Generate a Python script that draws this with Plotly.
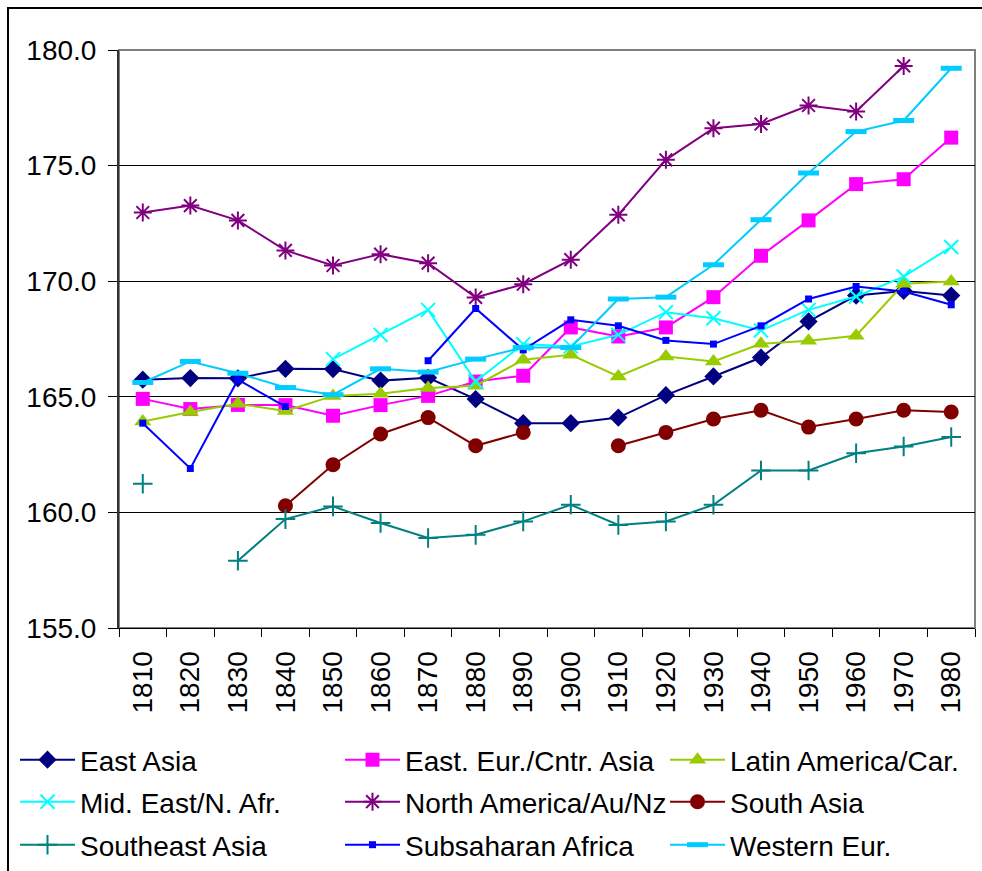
import plotly.graph_objects as go

years = [str(y) for y in range(1810, 1990, 10)]

east_asia = [165.74, 165.81, 165.80, 166.21, 166.20, 165.70, 165.82, 164.90, 163.86, 163.86,
             164.10, 165.07, 165.88, 166.70, 168.26, 169.38, 169.58, 169.38]
east_eur = [164.91, 164.47, 164.65, 164.64, 164.18, 164.64, 165.04, 165.66, 165.91, 168.00,
            167.61, 168.00, 169.31, 171.10, 172.63, 174.20, 174.41, 176.21]
latin_am = [163.93, 164.34, 164.70, 164.39, 165.04, 165.13, 165.38, 165.48, 166.60, 166.82,
            165.88, 166.74, 166.53, 167.29, 167.42, 167.64, 169.89, 169.99]
mid_east = [None, None, None, None, 166.63, 167.68, 168.76, 165.66, 167.28, 167.18,
            167.68, 168.66, 168.40, 167.87, 168.76, 169.34, 170.20, 171.48]
north_am = [172.97, 173.27, 172.63, 171.33, 170.68, 171.17, 170.78, 169.30, 169.87, 170.93,
            172.87, 175.25, 176.62, 176.80, 177.60, 177.34, 179.31, None]
south_asia = [None, None, None, 160.29, 162.06, 163.39, 164.10, 162.88, 163.46, None,
              162.88, 163.46, 164.04, 164.42, 163.69, 164.04, 164.42, 164.34]
southeast_asia = [161.24, None, 157.91, 159.71, 160.26, 159.54, 158.89, 159.03, 159.61, 160.33,
                  159.46, 159.61, 160.33, 161.81, 161.81, 162.56, 162.85, 163.26]
subsaharan = [163.86, 161.90, 165.74, 164.58, None, None, 166.56, 168.82, 167.03, 168.33,
              168.07, 167.44, 167.28, 168.07, 169.23, 169.77, 169.55, 168.98]
western_eur = [165.62, 166.53, 166.02, 165.40, 165.09, 166.21, 166.07, 166.63, 167.13, 167.13,
               169.23, 169.31, 170.71, 172.66, 174.68, 176.47, 176.95, 179.21]

# (name, values, color, symbol, size, marker line width)
series = [
    ("East Asia", east_asia, "#000080", "diamond", 14, 0),
    ("East. Eur./Cntr. Asia", east_eur, "#FF00FF", "square", 14, 0),
    ("Latin America/Car.", latin_am, "#99CC00", "triangle-up", 15, 0),
    ("Mid. East/N. Afr.", mid_east, "#00FFFF", "x-thin-open", 14, 2),
    ("North America/Au/Nz", north_am, "#800080", "asterisk-open", 15, 2),
    ("South Asia", south_asia, "#800000", "circle", 15, 0),
    ("Southeast Asia", southeast_asia, "#008080", "cross-thin-open", 14, 2),
    ("Subsaharan Africa", subsaharan, "#0000FF", "square", 7, 0),
    ("Western Eur.", western_eur, "#00CCFF", "line-ew-open", 15, 5),
]

FONT = "Liberation Sans, Arial, sans-serif"
FS = 28

W, H = 982, 871
L, R, T, B = 119, 7, 50, 243
pw, ph = W - L - R, H - T - B

def px_x(x):
    return (x - L) / pw

def px_y(y):
    return (H - B - y) / ph

col_x = [15, 340, 665]
row_y = [760, 802, 845]

fig = go.Figure()
legends = {}
for i, (name, vals, color, sym, size, lw) in enumerate(series):
    key = "legend" if i == 0 else f"legend{i + 1}"
    fig.add_trace(go.Scatter(
        x=years, y=vals, name=name, mode="lines+markers",
        line=dict(color=color, width=2),
        marker=dict(symbol=sym, size=size, color=color,
                    line=dict(color=color, width=lw)),
        connectgaps=False, legend=key, showlegend=True,
    ))
    legends[key] = dict(orientation="h", xanchor="left", yanchor="middle",
                        xref="container", yref="container",
                        x=col_x[i % 3] / W, y=(H - row_y[i // 3]) / H,
                        itemwidth=55,
                        font=dict(family=FONT, size=FS, color="black"),
                        bgcolor="rgba(0,0,0,0)", borderwidth=0, visible=True)

fig.update_layout(
    width=W, height=H, showlegend=True,
    margin=dict(l=L, r=R, t=T, b=B, pad=0),
    paper_bgcolor="white", plot_bgcolor="white",
    font=dict(family=FONT, size=FS, color="black"),
    xaxis=dict(type="category", range=[-0.5, len(years) - 0.5],
               tickangle=-90, ticks="outside", ticklen=8, tickcolor="black",
               tickson="boundaries", showgrid=False, showline=True,
               linecolor="black", linewidth=1, zeroline=False,
               ticklabelstandoff=11,
               tickfont=dict(family=FONT, size=FS, color="black")),
    yaxis=dict(range=[155, 180], dtick=5, tick0=155, tickformat=".1f",
               ticks="outside", ticklen=9, tickcolor="black",
               showgrid=True, gridcolor="black", gridwidth=1,
               showline=True, linecolor="#333333", linewidth=2, zeroline=False,
               ticklabelstandoff=6,
               tickfont=dict(family=FONT, size=FS, color="black")),
    shapes=[
        dict(type="rect", xref="paper", yref="paper", x0=0, x1=1, y0=0, y1=1,
             line=dict(color="#808080", width=2), layer="between"),
        dict(type="rect", xref="paper", yref="paper",
             x0=px_x(8), x1=px_x(1010), y0=px_y(900), y1=px_y(8),
             line=dict(color="black", width=2), layer="below"),
    ],
    **legends,
)

fig.write_html(
    "out.html",
    config={"displayModeBar": False},
    post_script="document.body.style.margin='0';document.body.style.overflow='hidden';",
)
